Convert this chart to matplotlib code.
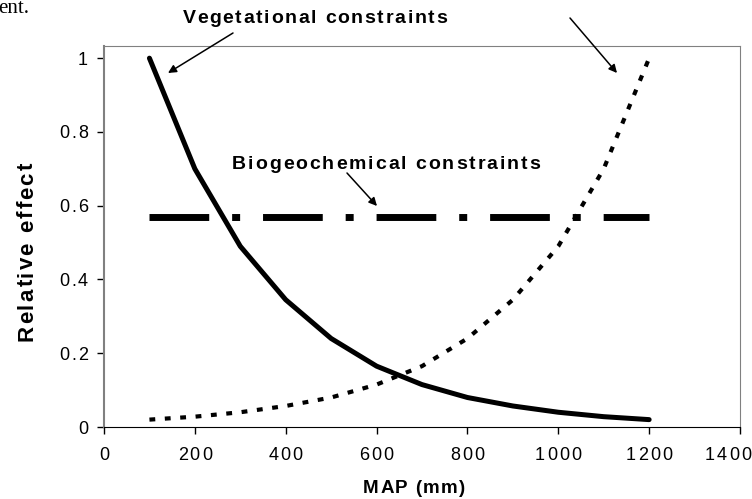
import numpy as np
from matplotlib import pyplot as plt
from matplotlib.font_manager import FontProperties
from matplotlib.patches import FancyArrowPatch
from matplotlib.transforms import IdentityTransform

# data
map_mm = [100, 200, 300, 400, 500, 600, 700, 800, 900, 1000, 1100, 1200]
vegetational = [1.0, 0.70, 0.49, 0.345, 0.24, 0.165, 0.115, 0.08, 0.057, 0.04, 0.028, 0.02]
hydrological = [0.02, 0.028, 0.04, 0.057, 0.08, 0.115, 0.165, 0.24, 0.345, 0.49, 0.70, 1.0]
bio_x = [100, 1200]
bio_y = [0.57, 0.57]
xticks = [0, 200, 400, 600, 800, 1000, 1200, 1400]
yticks = [0, 0.2, 0.4, 0.6, 0.8, 1.0]
ytick_labels = ['0', '0.2', '0.4', '0.6', '0.8', '1']

W, H = 752, 499
fig = plt.figure(figsize=(W / 100, H / 100), dpi=100)
ax = fig.add_axes([104 / W, 1 - 427 / H, 636 / W, 381 / H])

ax.plot(map_mm, vegetational, color='black', lw=3.6, solid_capstyle='round')
ax.plot(map_mm, hydrological, color='black', lw=3.0, dashes=(1.4, 2.3),
        dash_capstyle='butt')
ax.plot(bio_x, bio_y, color='black', lw=5.0, dashes=(8.6, 3.3, 1.15, 3.3),
        dash_capstyle='butt')

ax.set_xlim(0, 1400)
ax.set_ylim(0, 1.033)
ax.set_xticks(xticks)
ax.set_yticks(yticks)
ax.set_xticklabels([])
ax.set_yticklabels([])
ax.tick_params(axis='both', direction='out', length=5, width=1)
for side in ['top', 'right', 'left']:
    ax.spines[side].set_color('#808080')
ax.spines['left'].set_linewidth(1.5)
ax.spines['bottom'].set_color('black')

renderer = fig.canvas.get_renderer()


def spaced(x, y, s, size, weight='normal', width=None, track=0.0,
           ha='center', rotation=0, xmax=None):
    # letter-spaced text, x/y in pixels from the bottom-left, y = baseline
    prop = FontProperties(family='Liberation Sans', size=size, weight=weight)

    def w(t):
        return renderer.get_text_width_height_descent(t, prop, ismath=False)[0]

    bar = w('|')
    starts = [0] + [w(s[:i] + '|') - bar for i in range(1, len(s))]
    natural = w(s)
    if width is not None and len(s) > 1:
        track = (width - natural) / (len(s) - 1)
    total = natural + track * (len(s) - 1)
    shift = {'left': 0, 'center': total / 2, 'right': total}[ha]
    if xmax is not None and x - shift + total > xmax:
        shift = x + total - xmax
    for i, ch in enumerate(s):
        off = starts[i] + i * track - shift
        if rotation == 90:
            px, py = x, y + off
        else:
            px, py = x + off, y
        fig.text(px, py, ch, transform=IdentityTransform(), fontproperties=prop,
                 ha='left', va='baseline', rotation=rotation,
                 rotation_mode='anchor')


# tick labels
for t in xticks:
    xp, _ = ax.transData.transform((t, 0))
    spaced(xp, H - 460, str(t), 13, track=2.0, xmax=W - 1)
for t, lab in zip(yticks, ytick_labels):
    _, yp = ax.transData.transform((0, t))
    spaced(88, yp - 6.5, lab, 13, track=2.0, ha='right')

# axis titles
spaced(414, H - 493, 'MAP (mm)', 13.5, weight='bold', width=102)
spaced(33, H - 252, 'Relative effect', 16, weight='bold', width=178,
       rotation=90)

# annotations
spaced(315, H - 23, 'Vegetational constraints', 14, weight='bold', width=264)
spaced(386, H - 169, 'Biogeochemical constraints', 14, weight='bold', width=308)

arrow = dict(arrowstyle='-|>', color='black', lw=1.1, mutation_scale=12,
             shrinkA=0, shrinkB=0, transform=IdentityTransform())
fig.add_artist(FancyArrowPatch((233, H - 33), (168, H - 73), **arrow))
fig.add_artist(FancyArrowPatch((570, H - 18), (617, H - 73), **arrow))
fig.add_artist(FancyArrowPatch((347, H - 173), (377, H - 206), **arrow))

# fragment of the surrounding document text
fig.text(-2, H - 13, 'ent.', transform=IdentityTransform(), ha='left',
         va='baseline', fontsize=15, family='Liberation Serif')

fig.savefig('out.png', dpi=100)
